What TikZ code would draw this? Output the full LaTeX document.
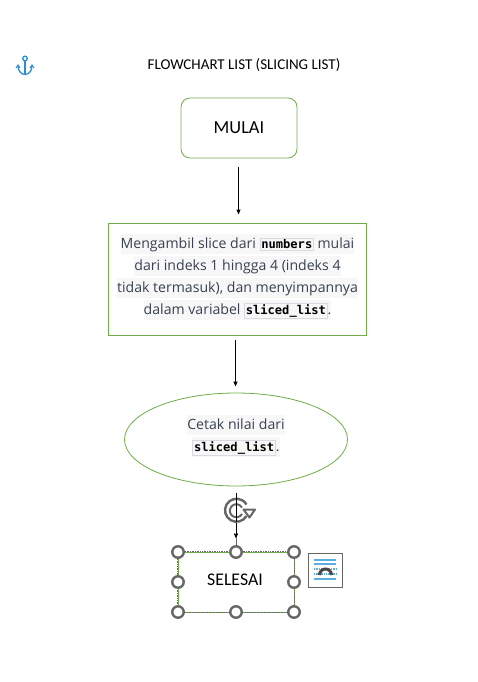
\documentclass[tikz,border=0pt]{standalone}
\usepackage{fontspec}
\setmainfont{Open Sans}
\newfontfamily\labelfont{Carlito}
\newfontfamily\codefont{DejaVu Sans Mono}[BoldFont={DejaVu Sans Mono Bold}]
\usepackage{amsmath}
\usepackage{tikz}
\usetikzlibrary{arrows,shapes.geometric}

\definecolor{boxgreen}{HTML}{70AD47}
\definecolor{inktext}{HTML}{374151}
\definecolor{linefill}{HTML}{F7F7F8}
\definecolor{chipline}{HTML}{D9D9E3}
\definecolor{handlegray}{HTML}{666666}
\definecolor{anchorblue}{HTML}{2E8FD0}
\definecolor{wrapblue}{HTML}{5AAFE0}

\newcommand{\rowfill}[1]{{\setlength{\fboxsep}{0pt}\colorbox{linefill}{\rule[-5.5pt]{0pt}{20pt}#1}}}
\newcommand{\chip}[1]{{\setlength{\fboxsep}{1pt}\setlength{\fboxrule}{0.6pt}\fcolorbox{chipline}{linefill}{\textcolor{black}{\codefont\bfseries\fontsize{12.1}{13}\selectfont #1}}}}

\begin{document}
\begin{tikzpicture}[x=1pt,y=-1pt,>=stealth',
    stepline/.style={->,black,line width=0.7pt},
    greenbox/.style={draw=boxgreen,line width=0.8pt,align=center},
    para/.style={text=inktext,font=\fontsize{14.1}{22}\selectfont,align=center},
    grip/.style={circle,draw=handlegray,fill=white,line width=2.4pt,inner sep=0pt,minimum size=11.5pt}]
    \useasboundingbox (0,0) rectangle (478,682);

    \node (title) at (244,65.5) {\labelfont\fontsize{15}{18}\selectfont FLOWCHART LIST (SLICING LIST)};

    \node [greenbox,rounded corners=9pt,minimum width=116pt,minimum height=60pt,font=\labelfont\fontsize{18.4}{20}\selectfont] (mulai) at (239,128) {MULAI};
    \node [greenbox,minimum width=258pt,minimum height=112pt] (ambil) at (237.5,279) {};
    \node [para] (ambiltext) at (237.5,277) {\rowfill{Mengambil slice dari \chip{numbers} mulai}\\
      \rowfill{dari indeks 1 hingga 4 (indeks 4}\\
      \rowfill{tidak termasuk), dan menyimpannya}\\
      \rowfill{dalam variabel \chip{sliced\_list}.}};
    \node [greenbox,ellipse,minimum width=223pt,minimum height=93pt,inner sep=0pt] (cetak) at (236,439.5) {};
    \node [para] (cetaktext) at (236,436) {\rowfill{Cetak nilai dari}\\\rowfill{\chip{sliced\_list}.}};
    \node [draw=boxgreen,line width=0.8pt,minimum width=116pt,minimum height=60pt] (selesai) at (236,582) {};
    \node [font=\labelfont\fontsize{17.8}{20}\selectfont] (selesaitext) at (235,579.5) {SELESAI};

    % free ends of the arrows
    \coordinate (a1) at (238.5,167);
    \coordinate (a2) at (238.5,214);
    \coordinate (b1) at (235.5,340);
    \coordinate (b2) at (235.5,386);
    \coordinate (c1) at (236,493);
    \coordinate (c2) at (236,538);
    \path (a1) edge [stepline] (a2);
    \path (b1) edge [stepline] (b2);
    \path (c1) edge [stepline] (c2);

    % selection frame
    \draw [handlegray,line width=0.7pt,densely dotted] (selesai.south west) rectangle (selesai.north east);
    \draw [handlegray,line width=0.7pt] (c2) -- (selesai.north);
    \foreach \gname/\gx/\gy in {lt/178/552,mt/236/552,rt/294/552,lc/178/582,rc/294/582,lb/178/612,mb/236/612,rb/294/612}
      \node [grip] (grip\gname) at (\gx,\gy) {};

    % rotate handle
    \draw [handlegray,line width=2.4pt] (246.5,516) arc [start angle=30,end angle=330,radius=11.5];
    \draw [handlegray,line width=2pt] (242,514) arc [start angle=30,end angle=330,radius=6.5];
    \draw [handlegray,line width=2pt,fill=white,line join=round] (243.5,509.5) -- (255,509.5) -- (249.5,517.5) -- cycle;
    \draw [black,line width=0.7pt] (c1) -- (236,522);

    % anchor
    \draw [anchorblue,line width=1.3pt] (25,58.5) circle (2.3);
    \draw [anchorblue,line width=1.3pt] (25,61) -- (25,74.5);
    \draw [anchorblue,line width=1.3pt] (18,66) arc [start angle=180,end angle=0,x radius=7,y radius=8.5];
    \draw [anchorblue,line width=1.1pt] (16,68) -- (18,65) -- (20,68);
    \draw [anchorblue,line width=1.1pt] (30,68) -- (32,65) -- (34,68);

    % layout options
    \node [draw=handlegray,fill=white,line width=0.8pt,minimum size=34pt,inner sep=0pt] (layout) at (325,570) {};
    \draw [wrapblue,line width=1.4pt] (314,560) -- (336,560);
    \draw [wrapblue,line width=1.4pt] (314,564) -- (336,564);
    \draw [wrapblue,line width=1.4pt,densely dotted] (314,569) -- (336,569);
    \draw [wrapblue,line width=1.4pt,densely dotted] (314,574) -- (336,574);
    \draw [wrapblue,line width=1.4pt] (314,579) -- (336,579);
    \draw [handlegray!70!black,line width=3pt] (319.5,575) arc [start angle=180,end angle=360,radius=6];
\end{tikzpicture}
\end{document}
